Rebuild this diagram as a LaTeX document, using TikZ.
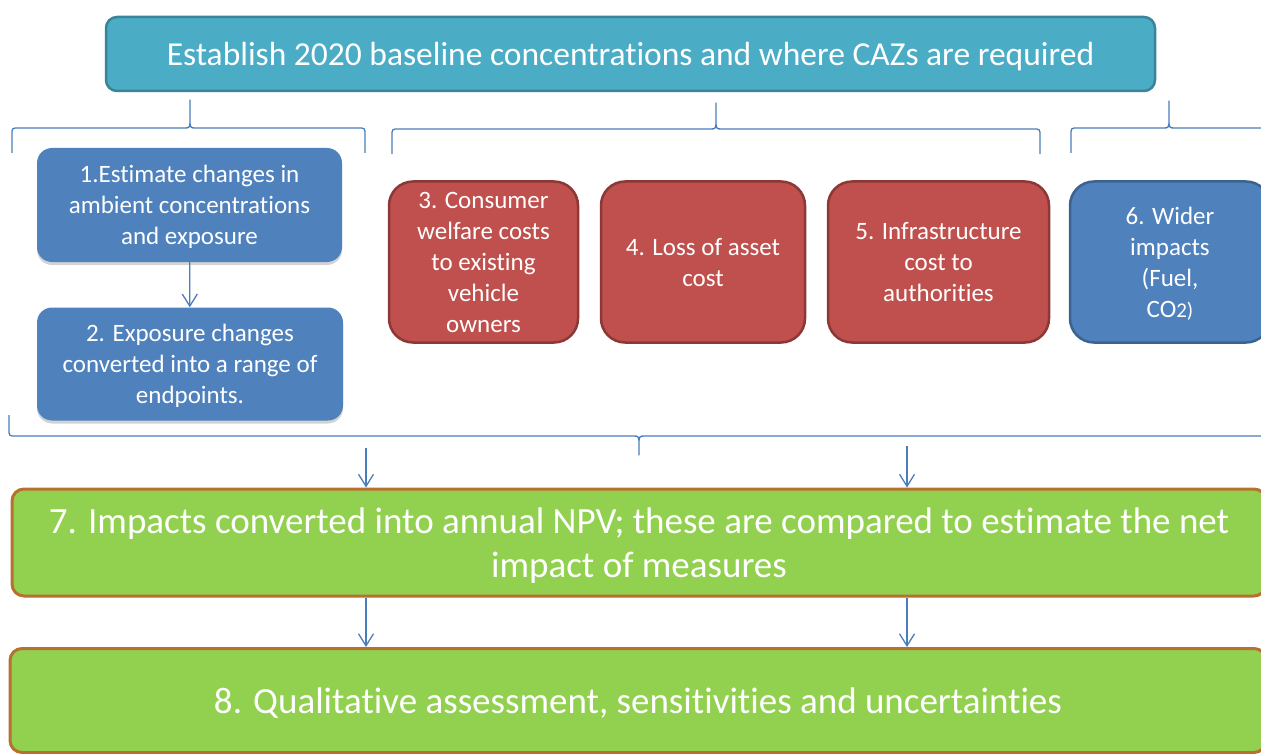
\documentclass[tikz,border=0pt]{standalone}
\usepackage{fontspec}
\setmainfont{Carlito}[Ligatures=NoCommon]
\usepackage{tikz}
\usetikzlibrary{arrows.meta,shadows}

\definecolor{hdrteal}{HTML}{4BACC6}
\definecolor{hdredge}{HTML}{3A8499}
\definecolor{stepblue}{HTML}{4F81BD}
\definecolor{blueedge}{HTML}{3B6390}
\definecolor{costred}{HTML}{C0504D}
\definecolor{rededge}{HTML}{8C3836}
\definecolor{npvgreen}{HTML}{92D050}
\definecolor{greenedge}{HTML}{B7702F}
\definecolor{linkblue}{HTML}{4A7EBB}

\begin{document}
\begin{tikzpicture}[x=1pt,y=-1pt,
    box/.style={rectangle, align=center, text=white, inner sep=0pt, text depth=0pt},
    smalltext/.style={font=\fontsize{25}{31}\selectfont},
    bigtext/.style={font=\fontsize{37}{44}\selectfont},
    stepbox/.style={box, smalltext, fill=stepblue, rounded corners=15pt,
        drop shadow={opacity=0.35, shadow xshift=0pt, shadow yshift=-3pt}},
    costbox/.style={box, smalltext, fill=costred, draw=rededge, line width=2.5pt, rounded corners=24pt},
    npvbox/.style={box, bigtext, fill=npvgreen, draw=greenedge, line width=3pt, rounded corners=12pt},
    link/.style={draw=linkblue, line width=1.3pt, -{Straight Barb[length=12pt,width=15pt]}},
    brace/.style={draw=linkblue, line width=1.3pt, line join=round}]

    \useasboundingbox (0,0) rectangle (1261,754);
    \clip (0,0) rectangle (1261,754);

    % header
    \node[box, fill=hdrteal, draw=hdredge, line width=2.5pt, rounded corners=11pt,
          minimum width=1049pt, minimum height=74pt, font=\fontsize{33.5}{38}\selectfont]
          (base) at (630.5,54) {Establish 2020 baseline concentrations and where CAZs are required};

    % health side
    \node[stepbox, minimum width=305pt, minimum height=114pt] (est) at (189.5,205)
          {1.Estimate changes in\\ambient concentrations\\and exposure};
    \node[stepbox, minimum width=306pt, minimum height=113pt] (endp) at (190,364)
          {2. Exposure changes\\converted into a range of\\endpoints.};

    % costs
    \node[costbox, minimum width=189pt, minimum height=161pt] (welfare) at (483.5,262)
          {3. Consumer\\welfare costs\\to existing\\vehicle\\owners};
    \node[costbox, minimum width=204pt, minimum height=161pt] (asset) at (703,262)
          {4. Loss of asset\\cost};
    \node[costbox, minimum width=221pt, minimum height=161pt] (infra) at (938.5,262)
          {5. Infrastructure\\cost to\\authorities};

    % wider impacts
    \node[box, smalltext, fill=stepblue, draw=blueedge, line width=2.5pt, rounded corners=24pt,
          minimum width=200pt, minimum height=161pt] (wider) at (1170,262)
          {6. Wider\\impacts\\(Fuel,\\CO{\fontsize{21}{31}\selectfont2)}};

    % totals
    \node[npvbox, minimum width=1254pt, minimum height=107pt] (npv) at (639,542.5)
          {7. Impacts converted into annual NPV; these are compared to estimate the net\\impact of measures};
    \node[npvbox, minimum width=1256pt, minimum height=104pt] (qual) at (638,700.5)
          {8. Qualitative assessment, sensitivities and uncertainties};

    % braces above each group
    \draw[brace] (12,153) -- (12,135) .. controls (12,128) .. (19,128) -- (184,128)
        .. controls (190,128) .. (190,118) -- (190,100) -- (190,118)
        .. controls (190,128) .. (196,128) -- (358,128) .. controls (365,128) .. (365,135) -- (365,153);
    \draw[brace] (392,154) -- (392,136) .. controls (392,129) .. (399,129) -- (710,129)
        .. controls (716,129) .. (716,119) -- (716,103) -- (716,119)
        .. controls (716,129) .. (722,129) -- (1033,129) .. controls (1040,129) .. (1040,136) -- (1040,154);
    \draw[brace] (1071,153) -- (1071,135) .. controls (1071,128) .. (1078,128) -- (1163,128)
        .. controls (1169,128) .. (1169,118) -- (1169,101) -- (1169,118)
        .. controls (1169,128) .. (1175,128) -- (1260,128) .. controls (1267,128) .. (1267,135) -- (1267,153);

    % brace under everything
    \draw[brace] (9,415) -- (9,429) .. controls (9,436) .. (16,436) -- (633,436)
        .. controls (639,436) .. (639,446) -- (639,455) -- (639,446)
        .. controls (639,436) .. (645,436) -- (1262,436) .. controls (1269,436) .. (1269,429) -- (1269,415);

    % arrows
    \draw[link] (est) -- (endp);
    \coordinate (inL) at (366,448);
    \coordinate (inR) at (907,446);
    \draw[link] (inL) -- (inL |- npv.north);
    \draw[link] (inR) -- (inR |- npv.north);
    \draw[link] (npv.south -| inL) -- (qual.north -| inL);
    \draw[link] (npv.south -| inR) -- (qual.north -| inR);
\end{tikzpicture}
\end{document}
